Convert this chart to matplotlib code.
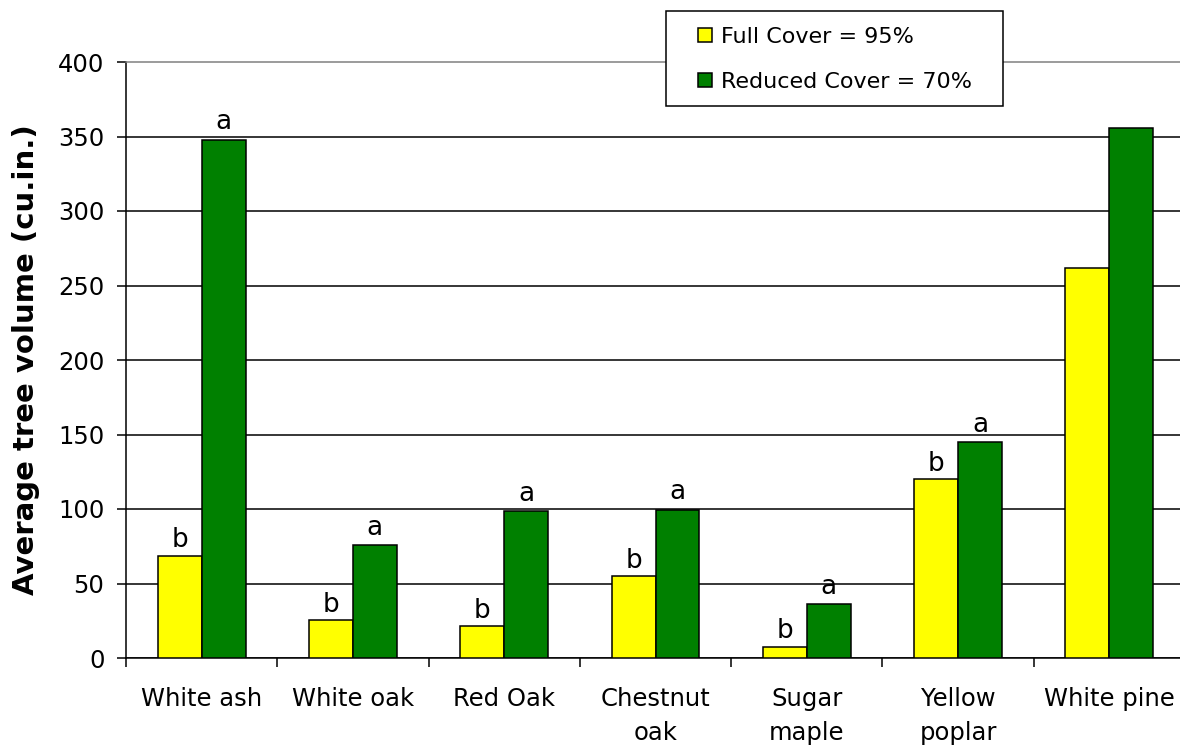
import numpy as np
import matplotlib
matplotlib.use("Agg")
import matplotlib.pyplot as plt
from matplotlib.patches import Rectangle

plt.rcParams['font.family'] = ['DejaVu Sans']

# data
species = ["White ash", "White oak", "Red Oak", "Chestnut\noak",
           "Sugar\nmaple", "Yellow\npoplar", "White pine"]
full_cover = [68.7, 25.3, 21.3, 54.9, 7.6, 120.3, 261.9]
reduced_cover = [347.8, 75.6, 98.4, 99.6, 36.0, 144.7, 355.6]
full_letters = ["b", "b", "b", "b", "b", "b", ""]
reduced_letters = ["a", "a", "a", "a", "a", "a", ""]
series_names = ["Full Cover = 95%", "Reduced Cover = 70%"]
yticks = [0, 50, 100, 150, 200, 250, 300, 350, 400]

W, H = 1180, 749
fig = plt.figure(figsize=(W / 100, H / 100), dpi=100)
ax = fig.add_axes([126 / W, 1 - 658 / H, (1185 - 126) / W, (658 - 62) / H])

x = np.arange(len(species))
bw = 0.29
b1 = ax.bar(x - bw / 2, full_cover, bw, color="#FFFF00", edgecolor="black",
            linewidth=1.1, zorder=3, label=series_names[0])
b2 = ax.bar(x + bw / 2, reduced_cover, bw, color="#008000", edgecolor="black",
            linewidth=1.1, zorder=3, label=series_names[1])

# significance letters just above the bars
for xi, v, t in zip(x, full_cover, full_letters):
    if t:
        ax.text(xi - bw / 2, v + 5.5, t, ha="center", va="baseline", fontsize=19)
for xi, v, t in zip(x, reduced_cover, reduced_letters):
    if t:
        ax.text(xi + bw / 2, v + 7, t, ha="center", va="baseline", fontsize=19)

ax.set_xlim(-0.5, len(species) - 0.5)
ax.set_ylim(0, 400)
ax.set_yticks(yticks)
ax.tick_params(axis="y", labelsize=17.5, length=6.5, width=1.1, pad=9)
ax.set_xticks(x)
ax.set_xticklabels(species, fontsize=17.5, linespacing=1.5)
ax.tick_params(axis="x", which="major", length=0, pad=21)
ax.set_xticks(np.arange(len(species) + 1) - 0.5, minor=True)
ax.tick_params(axis="x", which="minor", length=6.5, width=1.1)

ax.set_axisbelow(True)
ax.yaxis.grid(True, color="black", linewidth=1.1)
ax.get_ygridlines()[-1].set_visible(False)
ax.spines["top"].set_color("#808080")
ax.spines["top"].set_linewidth(1.1)
ax.spines["right"].set_visible(False)
ax.spines["left"].set_linewidth(1.1)
ax.spines["bottom"].set_linewidth(1.1)

ax.set_ylabel("Average tree volume (cu.in.)", fontsize=21, fontweight="bold")
ax.yaxis.set_label_coords((26 - 126) / (1185 - 126), 0.5)
ax.yaxis.label.set_verticalalignment("center")

# legend box sits over the top edge of the plot
fig.patches.append(Rectangle((666 / W, 1 - 106 / H), (1003 - 666) / W, (106 - 11) / H,
                             transform=fig.transFigure, facecolor="white",
                             edgecolor="black", linewidth=1.1, zorder=5))
leg = fig.legend(handles=[b1, b2], loc="upper left",
                 bbox_to_anchor=(680 / W, 1 - 9 / H), frameon=False,
                 fontsize=16, handlelength=0.63, handleheight=0.63,
                 handletextpad=0.4, labelspacing=1.12, borderpad=0.3)
leg.set_zorder(6)

fig.savefig("out.png", dpi=100)
